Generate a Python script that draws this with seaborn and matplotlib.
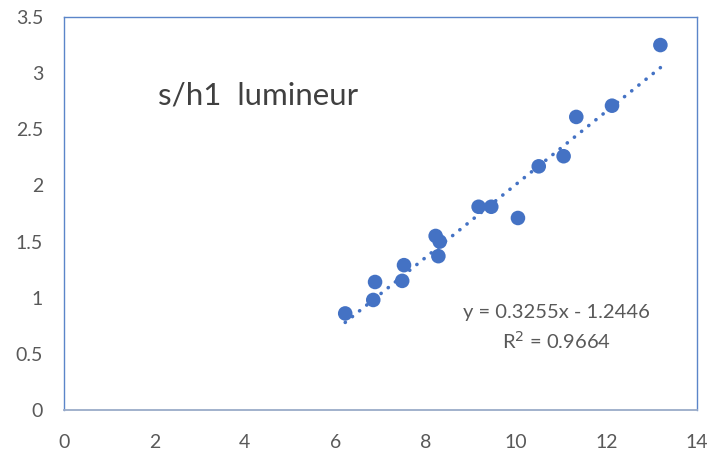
import numpy as np
import pandas as pd
import matplotlib
matplotlib.use("Agg")
import matplotlib.pyplot as plt
import seaborn as sns

# Measured points
x_vals = [6.22, 6.84, 6.88, 7.48, 7.52, 8.22, 8.31, 8.28, 9.17, 9.45, 10.04,
          10.5, 11.05, 11.33, 12.12, 13.19]
y_vals = [0.86, 0.98, 1.14, 1.15, 1.29, 1.55, 1.50, 1.37, 1.81, 1.81, 1.71,
          2.17, 2.26, 2.61, 2.71, 3.25]

# Linear trend coefficients
slope = 0.3255
intercept = -1.2446
r_squared = 0.9664

x_ticks = [0, 2, 4, 6, 8, 10, 12, 14]
y_ticks = [0, 0.5, 1, 1.5, 2, 2.5, 3, 3.5]
y_tick_labels = ["0", "0.5", "1", "1.5", "2", "2.5", "3", "3.5"]

sns.set_theme(style="white")
plt.rcParams["font.family"] = ["Lato", "DejaVu Sans"]

blue = "#4472C4"
grey_text = "#595959"

df = pd.DataFrame({"x": x_vals, "y": y_vals})
trend_x = np.array([min(x_vals), max(x_vals)])
trend = pd.DataFrame({"x": trend_x, "y": slope * trend_x + intercept})

fig = plt.figure(figsize=(7.1, 4.53), dpi=100)
ax = fig.add_axes([0.0901, 0.0949, 0.8916, 0.8676])

sns.lineplot(data=trend, x="x", y="y", ax=ax, color=blue, linewidth=2.6,
             linestyle=(0, (0.05, 2.5)), dash_capstyle="round", zorder=2)
sns.scatterplot(data=df, x="x", y="y", ax=ax, color=blue, s=110,
                edgecolor="none", zorder=3)

ax.set_xlim(0, 14)
ax.set_ylim(0, 3.5)
ax.set_xticks(x_ticks)
ax.set_yticks(y_ticks)
ax.set_yticklabels(y_tick_labels)
ax.set_xlabel("")
ax.set_ylabel("")
ax.tick_params(axis="both", length=0, labelsize=14, colors=grey_text)
ax.tick_params(axis="x", pad=17)
ax.tick_params(axis="y", pad=15)

for side in ["left", "right", "top"]:
    ax.spines[side].set_color("#5B85C9")
    ax.spines[side].set_linewidth(1.0)
ax.spines["bottom"].set_color("#9AABC8")
ax.spines["bottom"].set_linewidth(1.3)

ax.text(2.08, 2.80, "s/h1  lumineur", fontsize=22.5, color="#404040",
        ha="left", va="center")
ax.text(10.9, 0.87, f"y = {slope:.4f}x - {abs(intercept):.4f}",
        fontsize=14.5, color=grey_text, ha="center", va="center")
ax.text(10.88, 0.62, f"R$^2$ = {r_squared:.4f}",
        fontsize=14.5, color=grey_text, ha="center", va="center")

fig.savefig("out.png", dpi=100)
